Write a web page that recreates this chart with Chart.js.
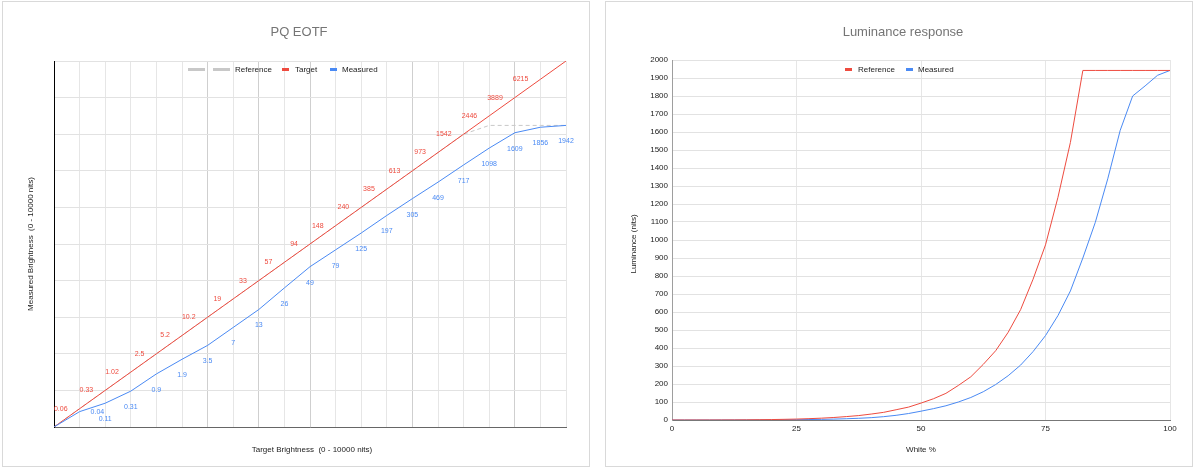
<!DOCTYPE html>
<html><head><meta charset="utf-8">
<script src="https://cdn.jsdelivr.net/npm/chart.js@4.4.1/dist/chart.umd.min.js"></script>
<style>
html,body{margin:0;padding:0;background:#fff;}
#wrap{position:relative;width:1200px;height:468px;overflow:hidden;}
.pane{position:absolute;top:0;width:600px;height:468px;}
canvas{display:block;}
</style></head><body>
<div id="wrap">
<div class="pane" style="left:0"><canvas id="c1" width="600" height="468"></canvas></div>
<div class="pane" style="left:600px"><canvas id="c2" width="600" height="468"></canvas></div>
</div>
<script>
// ---------- PQ EOTF chart data (PQ-encoded %, 0-100) ----------
const pqSignal     = [0,5,10,15,20,25,30,35,40,45,50,55,60,65,70,75,80,85,90,95,100];
const targetPQ     = [0,5,10,15,20,25,30,35,40,45,50,55,60,65,70,75,80,85,90,95,100];
const referencePQ  = [0,5,10,15,20,25,30,35,40,45,50,55,60,65,70,75,80,82.4,82.4,82.4,82.4];
const measuredPQ   = [0,4.2,6.5,9.8,14.5,18.5,22.3,27.2,32.1,38.0,43.8,48.4,53.0,57.8,62.4,66.9,71.6,76.2,80.4,81.9,82.4];
const targetLabels   = [null,'0.06','0.33','1.02','2.5','5.2','10.2','19','33','57','94','148','240','385','613','973','1542','2446','3889','6215',null];
const measuredLabels = [null,'0.04','0.11','0.31','0.9','1.9','3.5','7','13','26','49','79','125','197','305','469','717','1098','1609','1856','1942'];

// ---------- Luminance response data (nits vs white %) ----------
const whitePct = [0,2.5,5,7.5,10,12.5,15,17.5,20,22.5,25,27.5,30,32.5,35,37.5,40,42.5,45,47.5,50,52.5,55,57.5,60,62.5,65,67.5,70,72.5,75,77.5,80,82.5,85,87.5,90,92.5,95,97.5,100];
const refNits  = [0,0.01,0.06,0.16,0.33,0.6,1.02,1.65,2.5,3.7,5.2,7.4,10.2,13.9,19,24.6,33,42.5,57,71.7,94,118,148,192,240,309,385,487,613,782,973,1237,1542,1942,1942,1942,1942,1942,1942,1942,1942];
const measNits = [0,0.02,0.04,0.07,0.11,0.19,0.31,0.53,0.9,1.3,1.9,2.6,3.5,5,7,9.5,13,18.5,26,36,49,63,79,100,125,157,197,246,305,380,469,580,717,900,1098,1340,1609,1800,1856,1915,1942];
const lumTickStep = 100;
const whiteTickStep = 25;

const FONT = 'Arial, "Liberation Sans", sans-serif';
const RED = '#ee4b3f', BLUE = '#4a8af4', GREY = '#c8c8c8';

function pts(xs, ys){ return xs.map((x,i)=>({x:x, y:ys[i]})); }

function deco(cfg){
  return {
    id:'deco',
    beforeDraw(chart){
      const c = chart.ctx; c.save();
      c.fillStyle = '#fff'; c.fillRect(0,0,chart.width,chart.height);
      c.strokeStyle = '#d9d9d9'; c.lineWidth = 1;
      c.strokeRect(cfg.box[0]+0.5, cfg.box[1]+0.5, cfg.box[2], cfg.box[3]);
      c.restore();
    },
    afterDraw(chart){
      const c = chart.ctx; c.save();
      c.textBaseline = 'middle';
      c.fillStyle = '#757575'; c.font = '13px ' + FONT; c.textAlign = 'center';
      c.fillText(cfg.title, cfg.titleX, 32);
      c.font = '8px ' + FONT; c.textAlign = 'left';
      cfg.legend.forEach(it=>{
        c.fillStyle = it.color;
        if (it.kind === 'dash'){
          c.fillRect(it.x, 68, 17, 3);
          c.fillRect(it.x+25, 68, 17, 3);
        } else {
          c.fillRect(it.x, 68, 7, 3);
        }
        c.fillStyle = '#222';
        c.fillText(it.text, it.tx, 69.5);
      });
      c.fillStyle = '#222'; c.font = '8px ' + FONT; c.textAlign = 'center';
      c.fillText(cfg.xTitle, cfg.xTitleX, 450);
      c.translate(cfg.yTitleX, cfg.yTitleY); c.rotate(-Math.PI/2);
      c.fillText(cfg.yTitle, 0, 0);
      c.restore();
    }
  };
}

const pointLabels = {
  id:'pointLabels',
  afterDatasetsDraw(chart){
    const c = chart.ctx; c.save();
    c.font = '7px ' + FONT; c.textBaseline = 'middle';
    chart.getDatasetMeta(1).data.forEach((p,i)=>{
      const t = targetLabels[i]; if (!t) return;
      c.fillStyle = RED; c.textAlign = 'right';
      c.fillText(t, p.x - 12, p.y);
    });
    chart.getDatasetMeta(2).data.forEach((p,i)=>{
      const t = measuredLabels[i]; if (!t) return;
      c.fillStyle = BLUE;
      if (i === 1){ c.textAlign = 'left'; c.fillText(t, p.x + 11, p.y); }
      else { c.textAlign = 'center'; c.fillText(t, p.x, p.y + 16); }
    });
    c.restore();
  }
};

const darkX = [30,40,50,70,90];

new Chart(document.getElementById('c1'), {
  type:'line',
  data:{ datasets:[
    {label:'Reference', data:pts(pqSignal, referencePQ), borderColor:GREY, borderDash:[4,3], borderWidth:1, pointRadius:0, order:3},
    {label:'Target', data:pts(pqSignal, targetPQ), borderColor:RED, borderWidth:1, pointRadius:0, order:2},
    {label:'Measured', data:pts(pqSignal, measuredPQ), borderColor:BLUE, borderWidth:1, pointRadius:0, order:1}
  ]},
  options:{
    responsive:false, animation:false, events:[],
    layout:{padding:{left:54, right:34, top:61, bottom:41}},
    plugins:{legend:{display:false}, title:{display:false}, tooltip:{enabled:false}},
    scales:{
      x:{type:'linear', min:0, max:100,
         ticks:{display:false, stepSize:5},
         grid:{drawTicks:false, color:(ctx)=> (ctx.tick && darkX.includes(ctx.tick.value)) ? '#cfcfcf' : '#e6e6e6'},
         border:{display:true, color:'#666', width:1},
         afterFit(s){ s.height = 0; }},
      y:{type:'linear', min:0, max:100,
         ticks:{display:false, stepSize:10},
         grid:{drawTicks:false, color:'#e2e2e2'},
         border:{display:true, color:'#000', width:1},
         afterFit(s){ s.width = 0; }}
    }
  },
  plugins:[deco({
    box:[2,1,587,465], title:'PQ EOTF', titleX:299,
    legend:[
      {kind:'dash', color:'#c8c8c8', x:188, text:'Reference', tx:235},
      {kind:'bar', color:RED, x:282, text:'Target', tx:295},
      {kind:'bar', color:BLUE, x:330, text:'Measured', tx:342}
    ],
    xTitle:'Target Brightness  (0 - 10000 nits)', xTitleX:312,
    yTitle:'Measured Brightness  (0 - 10000 nits)', yTitleX:31, yTitleY:244
  }), pointLabels]
});

new Chart(document.getElementById('c2'), {
  type:'line',
  data:{ datasets:[
    {label:'Reference', data:pts(whitePct, refNits), borderColor:RED, borderWidth:1, pointRadius:0},
    {label:'Measured', data:pts(whitePct, measNits), borderColor:BLUE, borderWidth:1, pointRadius:0}
  ]},
  options:{
    responsive:false, animation:false, events:[],
    layout:{padding:{left:42, right:30, top:60, bottom:28}},
    plugins:{legend:{display:false}, title:{display:false}, tooltip:{enabled:false}},
    scales:{
      x:{type:'linear', min:0, max:100,
         ticks:{stepSize:whiteTickStep, padding:4, color:'#222', font:{size:8, family:FONT}, maxRotation:0,
                callback:(v)=>String(v)},
         grid:{drawTicks:false, color:'#e6e6e6'},
         border:{display:true, color:'#777', width:1},
         afterFit(s){ s.height = 20; }},
      y:{type:'linear', min:0, max:2000,
         ticks:{stepSize:lumTickStep, padding:4, color:'#222', font:{size:8, family:FONT},
                callback:(v)=>String(v)},
         grid:{drawTicks:false, color:'#e2e2e2'},
         border:{display:true, color:'#9e9e9e', width:1},
         afterFit(s){ s.width = 30; }}
    }
  },
  plugins:[deco({
    box:[5,1,587,465], title:'Luminance response', titleX:303,
    legend:[
      {kind:'bar', color:RED, x:245, text:'Reference', tx:258},
      {kind:'bar', color:BLUE, x:306, text:'Measured', tx:318}
    ],
    xTitle:'White %', xTitleX:321,
    yTitle:'Luminance (nits)', yTitleX:34, yTitleY:244
  })]
});
</script>
</body></html>
